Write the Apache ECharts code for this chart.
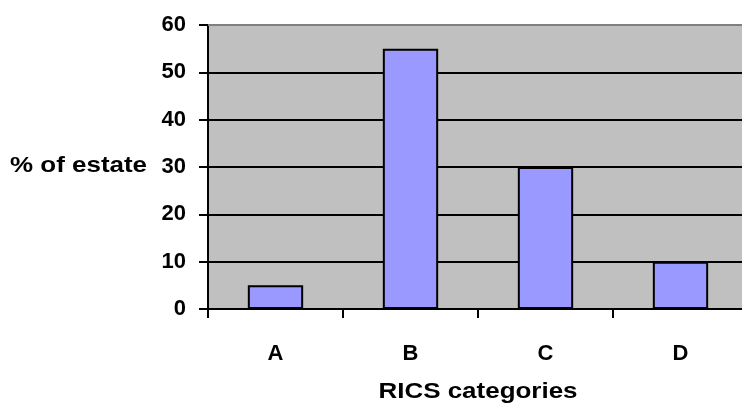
<!DOCTYPE html>
<html>
<head>
<meta charset="utf-8">
<script src="https://cdn.jsdelivr.net/npm/echarts@6/dist/echarts.min.js"></script>
<style>
  html, body { margin: 0; padding: 0; background: #fff; overflow: hidden; }
  #chart { width: 760px; height: 408px; }
</style>
</head>
<body>
<div id="chart"></div>
<script>
// RICS condition categories and share of estate in each
const categories = ['A', 'B', 'C', 'D'];
const estateShare = [5, 55, 30, 10];
const yTicks = [0, 10, 20, 30, 40, 50, 60];
const yAxisTitle = '% of estate';
const xAxisTitle = 'RICS categories';

const font = 'Liberation Sans';
const fontSize = 22;
// titles are set in a slightly widened bold face
const titleWiden = 1.18;

const gridLeft = 208;
const gridRight = 12;
const chartWidth = 760;

const chart = echarts.init(document.getElementById('chart'), null, { renderer: 'canvas' });

chart.setOption({
  animation: false,
  backgroundColor: '#ffffff',
  textStyle: { fontFamily: font },
  grid: {
    left: gridLeft,
    right: gridRight,
    top: 25,
    bottom: 99,
    show: true,
    backgroundColor: '#c0c0c0',
    borderWidth: 0
  },
  xAxis: {
    type: 'category',
    data: categories,
    axisLine: { show: true, lineStyle: { color: '#000', width: 2 } },
    axisTick: { show: true, alignWithLabel: false, length: 9, lineStyle: { color: '#000', width: 2 } },
    axisLabel: { color: '#000', fontFamily: font, fontWeight: 'bold', fontSize: fontSize, margin: 34 },
    splitLine: { show: false }
  },
  yAxis: {
    type: 'value',
    min: yTicks[0],
    max: yTicks[yTicks.length - 1],
    interval: 10,
    axisLine: { show: true, lineStyle: { color: '#000', width: 2 } },
    axisTick: { show: true, length: 9, lineStyle: { color: '#000', width: 2 } },
    axisLabel: { color: '#000', fontFamily: font, fontWeight: 'bold', fontSize: fontSize, margin: 22 },
    splitLine: { show: true, lineStyle: { color: '#000', width: 2 } }
  },
  graphic: [
    {
      type: 'text',
      x: 10,
      y: 166,
      scaleX: titleWiden,
      style: {
        text: yAxisTitle,
        fill: '#000',
        fontFamily: font,
        fontWeight: 'bold',
        fontSize: fontSize,
        textAlign: 'left',
        textVerticalAlign: 'middle'
      }
    },
    {
      type: 'text',
      x: (gridLeft + chartWidth - gridRight) / 2,
      y: 392,
      scaleX: titleWiden,
      style: {
        text: xAxisTitle,
        fill: '#000',
        fontFamily: font,
        fontWeight: 'bold',
        fontSize: fontSize,
        textAlign: 'center',
        textVerticalAlign: 'middle'
      }
    },
    {
      // thin gray rule along the top edge of the plot
      type: 'rect',
      shape: { x: gridLeft, y: 24, width: 560, height: 2 },
      style: { fill: '#808080' },
      z: 10
    }
  ],
  series: [{
    type: 'bar',
    data: estateShare,
    barWidth: '41%',
    itemStyle: { color: '#9999ff', borderColor: '#000', borderWidth: 2 },
    z: 5
  }]
});
</script>
</body>
</html>
